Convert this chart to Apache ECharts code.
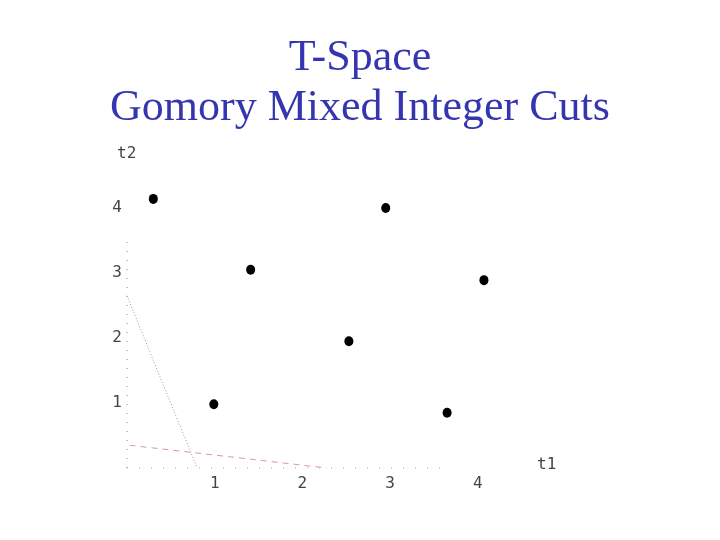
<!DOCTYPE html>
<html>
<head>
<meta charset="utf-8">
<script src="https://cdn.jsdelivr.net/npm/echarts@6/dist/echarts.min.js"></script>
<style>
  html, body { margin: 0; padding: 0; background: #fff; }
  #chart { width: 720px; height: 540px; }
</style>
</head>
<body>
<div id="chart"></div>
<script>
// integer points in t-space
const points = [
  [0.30, 4.14], [1.41, 3.05], [2.95, 4.00], [4.07, 2.89],
  [2.53, 1.95], [0.99, 0.98], [3.65, 0.85]
];
// cut lines
const grayCut = [[0, 2.65], [0.80, 0]];
const redCut = [[0.03, 0.35], [2.28, 0]];
// axis extents (dotted)
const xAxisLine = [[0, 0], [3.62, 0]];
const yAxisLine = [[0, 0], [0, 3.6]];
const ticks = [1, 2, 3, 4];

const chart = echarts.init(document.getElementById('chart'));
const tickFont = { fontFamily: 'DejaVu Sans Mono', fontSize: 16, color: '#444' };

chart.setOption({
  animation: false,
  title: {
    text: 'T-Space\nGomory Mixed Integer Cuts',
    left: 'center',
    top: 28,
    textStyle: {
      fontFamily: 'Liberation Serif',
      fontWeight: 'normal',
      fontSize: 44,
      lineHeight: 50,
      color: '#3535b0'
    }
  },
  grid: { left: 127, top: 175.5, width: 438.5, height: 292.5 },
  xAxis: {
    type: 'value', min: 0, max: 5, interval: 1,
    axisLine: { show: false },
    axisTick: { show: false },
    splitLine: { show: false },
    axisLabel: Object.assign({
      margin: 8,
      formatter: v => ticks.includes(v) ? String(v) : ''
    }, tickFont)
  },
  yAxis: {
    type: 'value', min: 0, max: 4.5, interval: 1,
    axisLine: { show: false },
    axisTick: { show: false },
    splitLine: { show: false },
    axisLabel: Object.assign({
      margin: 5,
      formatter: v => ticks.includes(v) ? String(v) : ''
    }, tickFont)
  },
  graphic: [
    { type: 'text', left: 117, top: 146, style: Object.assign({ text: 't2' }, tickFont, { fill: '#444' }) },
    { type: 'text', left: 537, top: 457, style: Object.assign({ text: 't1' }, tickFont, { fill: '#444' }) }
  ],
  series: [
    {
      type: 'line', data: xAxisLine, symbol: 'none', silent: true,
      lineStyle: { color: '#888', width: 1, type: [1, 11] }
    },
    {
      type: 'line', data: yAxisLine, symbol: 'none', silent: true,
      lineStyle: { color: '#888', width: 1, type: [1, 8] }
    },
    {
      type: 'line', data: grayCut, symbol: 'none', silent: true,
      lineStyle: { color: '#999', width: 1, type: [1, 2] }
    },
    {
      type: 'line', data: redCut, symbol: 'none', silent: true,
      lineStyle: { color: '#d89a9a', width: 1, type: [6, 5] }
    },
    {
      type: 'scatter', data: points, symbolSize: [9, 10],
      itemStyle: { color: '#000', opacity: 1 }
    }
  ]
});
</script>
</body>
</html>
